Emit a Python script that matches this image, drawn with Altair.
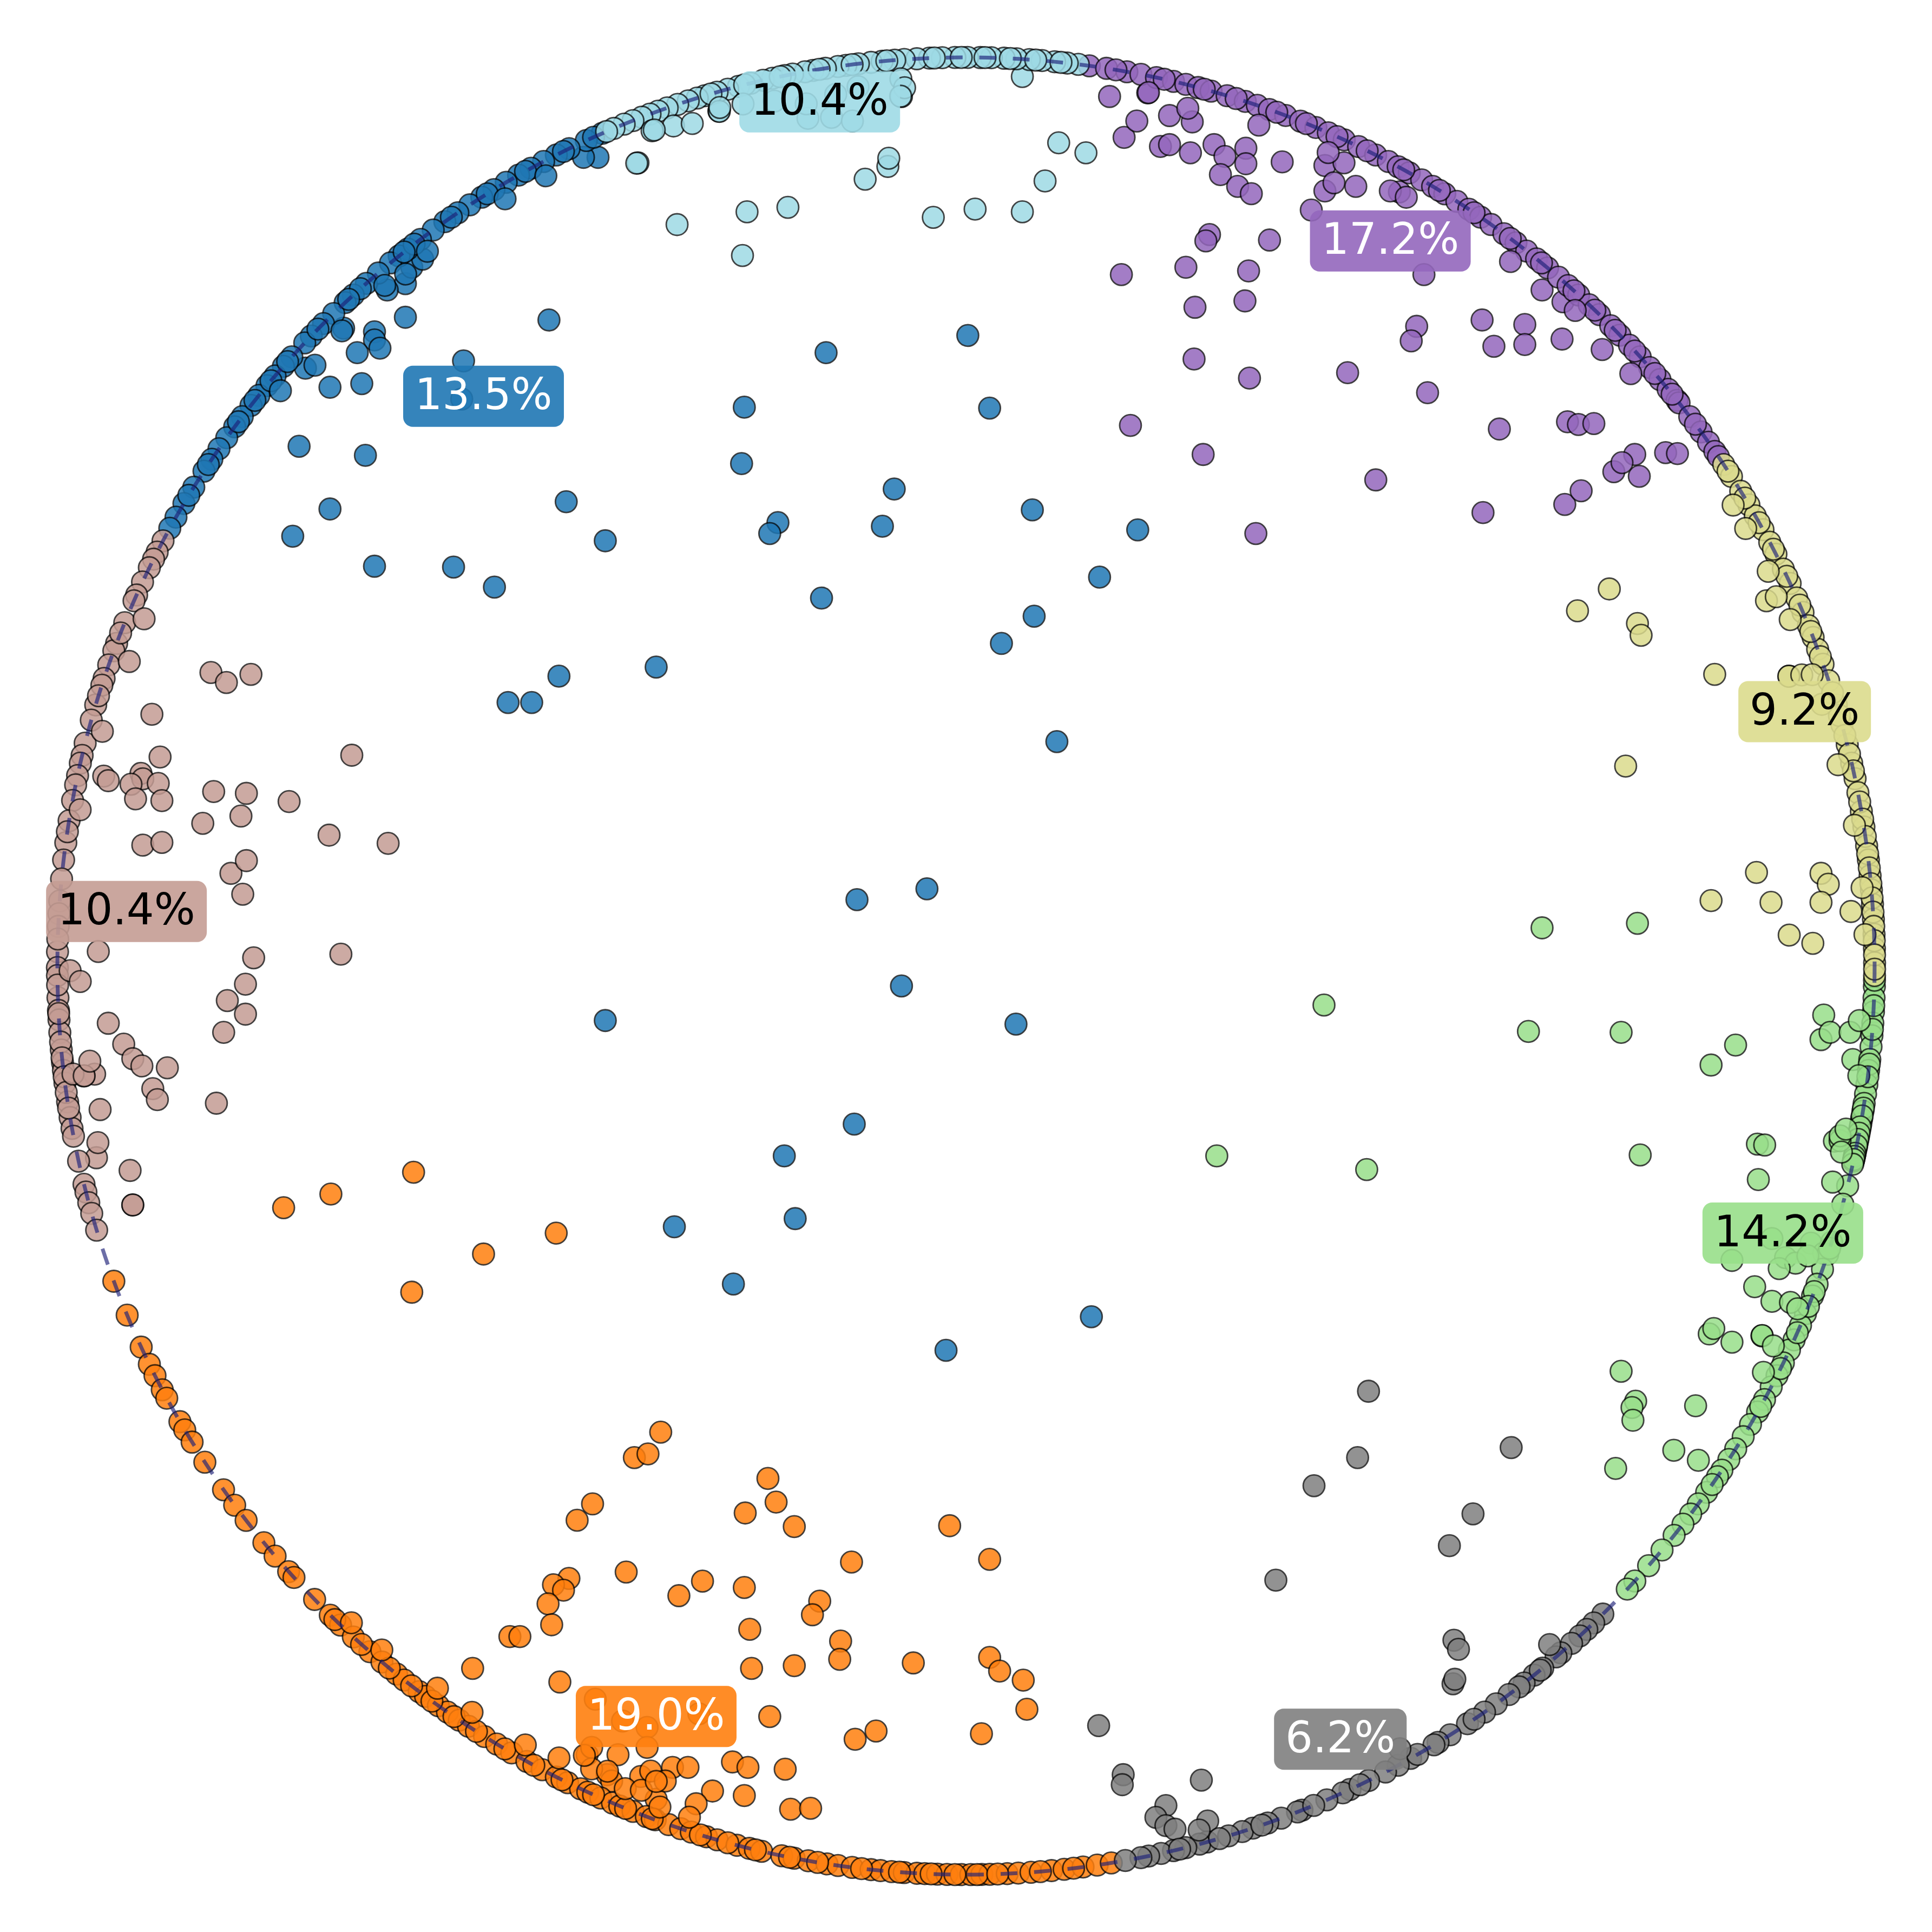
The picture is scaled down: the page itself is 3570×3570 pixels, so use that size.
import math
import altair as alt
import pandas as pd

# ---------------- categories ----------------
cat_names = ["blue", "orange", "green", "purple", "rosy", "gray", "khaki", "lightblue"]
cat_colors = ["#1f77b4", "#ff7f0e", "#98df8a", "#9467bd", "#c49c94", "#7f7f7f", "#dbdb8d", "#9edae5"]

# share labels
label_cat = ["lightblue", "purple", "khaki", "green", "gray", "orange", "rosy", "blue"]
label_text = ["10.4%", "17.2%", "9.2%", "14.2%", "6.2%", "19.0%", "10.4%", "13.5%"]
label_x = [-0.161, 0.467, 0.923, 0.899, 0.412, -0.341, -0.924, -0.531]
label_y = [0.951, 0.798, 0.280, -0.294, -0.851, -0.826, 0.060, 0.627]
label_ink = ["black", "white", "black", "black", "white", "white", "black", "white"]

# ---------------- points on the circle (angle in degrees) ----------------
ring_lightblue = [82.9, 83.6, 84.4, 85.2, 86.0, 86.8, 87.6, 88.4, 89.1, 89.9, 90.7, 91.5, 92.3, 93.1,
                  93.9, 94.5, 95.3, 96.0, 96.8, 97.6, 98.1, 98.9, 99.7, 100.2, 101.0, 101.5, 102.3,
                  102.9, 103.7, 104.5, 105.2, 105.9, 106.7, 107.2, 107.8, 108.5, 109.2, 109.8, 110.35,
                  110.9, 111.5, 112.1, 112.8, 113.3, 84.0, 85.6, 87.2, 88.8, 90.3, 92.0, 95.0, 97.2,
                  99.3, 101.8, 104.1, 106.3]
ring_purple = [82.2, 81.1, 79.8, 78.9, 77.9, 76.8, 76.0, 75.2, 74.35, 73.3, 72.1, 71.3, 70.5, 69.4,
               68.4, 67.35, 66.5, 65.4, 64.4, 63.2, 62.3, 61.6, 60.8, 59.9, 59.1, 58.2, 57.3, 56.4,
               55.5, 54.7, 53.7, 52.75, 51.9, 51.1, 50.2, 49.3, 48.5, 47.6, 46.7, 45.8, 44.8, 43.97,
               43.1, 42.1, 41.2, 40.2, 39.4, 38.5, 38.3, 37.2, 36.0, 35.2, 34.5, 80.5, 77.4, 74.8,
               72.7, 70.0, 68.0, 65.9, 63.8, 61.2, 58.6, 56.0, 53.2, 50.7, 48.0, 46.2, 44.4, 42.6,
               40.7, 39.0, 36.6, 34.1]
ring_khaki = [33.5, 32.6, 31.5, 30.5, 29.7, 28.7, 27.8, 26.95, 25.9, 24.9, 23.9, 22.9, 22.0, 21.2,
              20.4, 19.4, 18.3, 16.7, 15.4, 14.1, 12.9, 11.9, 11.0, 9.8, 8.8, 7.6, 6.7, 5.7, 4.8,
              3.9, 2.95, 2.0, 1.1, 0.2, -0.6, 33.0, 31.0, 29.2, 27.3, 25.4, 23.4, 21.6, 19.9, 17.5,
              16.0, 14.7, 13.5, 12.4, 10.4, 9.3, 8.2, 7.1, 6.2, 5.2, 4.3, 3.4, 2.5, 1.6, 0.7, -0.2]
ring_green = [-1.3, -2.0, -2.9, -3.6, -4.4, -5.1, -5.9, -6.6, -7.5, -8.1, -8.7, -9.2, -9.7, -10.0,
              -10.4, -10.8, -11.2, -11.5, -11.7, -12.0, -12.2, -12.4, -14.0, -15.2, -17.7, -18.5,
              -19.5, -20.5, -21.3, -22.5, -23.3, -24.3, -25.0, -25.9, -26.8, -27.6, -28.5, -29.4,
              -30.3, -31.2, -32.1, -32.9, -33.7, -34.2, -35.4, -36.3, -37.1, -37.9, -38.8, -40.0,
              -41.3, -42.6, -43.3, -0.9, -2.5, -4.0, -6.2, -7.0, -9.0, -9.5, -10.2, -10.6, -11.0,
              -11.4, -11.9, -12.1, -12.3, -12.6, -18.1, -21.0, -22.0, -23.8, -26.3, -29.0, -34.8]
ring_gray = [-45.5, -46.3, -46.9, -47.5, -48.2, -49.1, -49.5, -50.6, -51.3, -52.1, -52.5, -53.3,
             -54.3, -55.2, -56.5, -57.8, -58.7, -59.0, -60.7, -61.6, -62.5, -63.7, -65.0, -65.5,
             -66.6, -68.3, -68.6, -69.7, -70.6, -71.6, -72.3, -73.2, -74.6, -75.1, -76.0, -76.8,
             -77.6, -78.4, -78.9, -79.9, -50.8, -56.0, -60.2, -64.3, -67.5, -71.0, -73.8, -76.4]
ring_orange = [200.3, 202.6, 204.8, 206.0, 206.8, 207.8, 208.4, 210.1, 210.7, 211.6, 213.1, 215.2,
               216.4, 217.6, 219.4, 220.5, 221.8, 222.3, 224.2, 225.6, 226.5, 227.6, 229.0, 230.0,
               231.2, 231.8, 233.0, 233.5, 234.5, 235.2, 236.1, 236.8, 238.0, 238.9, 240.0, 241.1,
               242.2, 243.2, 244.0, 244.9, 245.4, 246.3, 247.1, 247.6, 248.5, 249.4, 250.0, 250.9,
               251.7, 252.4, 253.4, 254.1, 255.4, 256.2, 257.0, 258.3, 259.1, 260.0, 261.2, 261.9,
               262.8, 264.0, 264.6, 265.3, 266.1, 266.9, 267.4, 268.2, 268.8, 269.7, 270.3, 271.0,
               271.5, 272.6, 273.3, 274.1, 275.4, 276.2, 277.4, 278.3, 279.2, 226.0, 228.3, 230.6,
               232.4, 234.0, 235.7, 237.4, 239.5, 241.6, 243.6, 245.8, 248.0, 249.8, 253.0, 254.8,
               256.6, 258.8, 260.6, 263.4, 265.8, 267.8, 269.3, 270.7, 272.0, 274.7, 276.8]
ring_rosy = [152.1, 152.9, 153.4, 154.0, 155.0, 155.9, 156.3, 157.8, 159.2, 159.7, 160.65, 161.55,
             162.0, 163.3, 164.3, 165.8, 166.6, 167.1, 167.9, 168.5, 169.5, 170.8, 172.2, 173.3,
             174.5, 175.9, 176.7, 179.1, 180.1, 182.0, 182.8, 183.4, 184.2, 185.3, 186.1, 186.6,
             187.4, 188.6, 189.6, 190.3, 190.8, 192.4, 193.9, 194.4, 195.1, 195.8, 196.9, 177.5,
             178.3, 180.6, 181.2, 183.0, 184.8, 185.8, 187.0, 188.0, 189.0, 158.5, 162.7, 171.5]
ring_blue = [113.6, 114.7, 115.9, 116.8, 117.7, 118.6, 119.5, 120.4, 121.3, 122.2, 123.1, 124.0,
             125.0, 125.9, 126.9, 127.9, 128.6, 129.3, 130.3, 131.3, 132.4, 133.1, 134.1, 135.0,
             136.1, 136.7, 137.9, 138.7, 139.5, 140.3, 141.1, 141.9, 142.8, 143.6, 144.45, 145.3,
             146.1, 147.0, 148.2, 149.4, 150.4, 151.2, 114.2, 116.3, 119.0, 121.8, 124.5, 127.4,
             128.2, 131.8, 132.8, 135.5, 138.3, 139.9, 141.5, 143.2, 146.5, 148.8]

# ---------------- points just inside the circle (angle, radius) ----------------
near_lightblue = [(110.6, 0.982), (109.2, 0.979), (106.1, 0.979), (94.2, 0.979), (94.0, 0.969),
                  (94.3, 0.960), (112.3, 0.955), (110.45, 0.982), (106.0, 0.983), (97.0, 0.975),
                  (98.5, 0.970), (100.5, 0.965), (102.5, 0.975), (104.5, 0.980), (108.0, 0.975)]
near_purple = [(78.2, 0.982), (75.5, 0.975), (70.8, 0.980), (66.0, 0.980), (60.2, 0.975),
               (52.3, 0.980), (47.1, 0.985), (44.1, 0.975), (41.7, 0.980)]
near_khaki = [(29.3, 0.984), (26.2, 0.984), (22.8, 0.984), (19.4, 0.960), (19.2, 0.974),
              (19.0, 0.985), (31.0, 0.985), (24.5, 0.980), (17.0, 0.985), (13.0, 0.985),
              (9.0, 0.990), (5.0, 0.990), (2.0, 0.990)]
near_green = [(-14.0, 0.983), (-11.4, 0.975), (-11.3, 0.981), (-11.0, 0.980), (-12.0, 0.985),
              (-10.5, 0.985), (-24.9, 0.966), (-25.2, 0.982), (-22.2, 0.980), (-22.4, 0.990),
              (-19.0, 0.980), (-27.0, 0.985), (-3.5, 0.985), (-7.0, 0.990)]
near_gray = [(-49.3, 0.985), (-61.0, 0.985), (-74.9, 0.985)]
near_orange = [(240.5, 0.985), (242.8, 0.980), (245.0, 0.975), (246.0, 0.970), (247.5, 0.980),
               (248.5, 0.975), (250.0, 0.985), (252.0, 0.985), (233.8, 0.985), (236.5, 0.985),
               (229.5, 0.990), (226.9, 0.990), (244.2, 0.965), (249.2, 0.960)]
near_rosy = [(157.1, 0.982), (160.0, 0.980), (180.3, 0.986), (186.9, 0.990), (187.1, 0.978),
             (181.0, 0.975), (186.2, 0.970), (191.5, 0.975), (196.0, 0.954), (164.8, 0.985),
             (170.0, 0.990)]
near_blue = [(127.0, 0.985), (129.0, 0.980), (130.5, 0.985), (134.5, 0.980), (137.3, 0.975),
             (140.0, 0.985), (118.0, 0.985), (121.0, 0.985)]

# ---------------- points inside the disc (x, y) ----------------
inner_lightblue = [(-0.361, 0.884), (-0.318, 0.816), (-0.246, 0.782), (-0.241, 0.830), (-0.196, 0.835),
                   (-0.111, 0.866), (-0.086, 0.880), (-0.085, 0.889), (-0.036, 0.824), (0.010, 0.833),
                   (0.062, 0.830), (0.087, 0.864), (0.102, 0.906), (0.132, 0.895), (-0.174, 0.933),
                   (-0.148, 0.934), (-0.125, 0.930), (-0.071, 0.957), (-0.272, 0.941), (0.062, 0.979)]
inner_purple = [(0.158, 0.957), (0.174, 0.912), (0.188, 0.930), (0.200, 0.961), (0.214, 0.902),
                (0.224, 0.936), (0.224, 0.904), (0.249, 0.929), (0.247, 0.895), (0.273, 0.904),
                (0.285, 0.891), (0.280, 0.871), (0.308, 0.900), (0.308, 0.883), (0.299, 0.858),
                (0.314, 0.850), (0.348, 0.885), (0.395, 0.881), (0.416, 0.884), (0.395, 0.853),
                (0.405, 0.862), (0.429, 0.858), (0.380, 0.832), (0.477, 0.852), (0.268, 0.805),
                (0.264, 0.798), (0.334, 0.799), (0.171, 0.761), (0.242, 0.769), (0.311, 0.765),
                (0.252, 0.725), (0.307, 0.732), (0.504, 0.761), (0.251, 0.668), (0.312, 0.647),
                (0.420, 0.653), (0.508, 0.631), (0.496, 0.704), (0.490, 0.688), (0.568, 0.711),
                (0.581, 0.682), (0.615, 0.706), (0.615, 0.684), (0.656, 0.690), (0.634, 0.744),
                (0.657, 0.731), (0.181, 0.595), (0.261, 0.563), (0.451, 0.535), (0.569, 0.499),
                (0.587, 0.591), (0.662, 0.599), (0.674, 0.596), (0.691, 0.597), (0.659, 0.508),
                (0.677, 0.523), (0.713, 0.544), (0.736, 0.563), (0.741, 0.539), (0.722, 0.554),
                (0.770, 0.565), (0.783, 0.564), (0.319, 0.476), (0.467, 0.853)]
inner_khaki = [(0.708, 0.415), (0.673, 0.391), (0.739, 0.377), (0.743, 0.364), (0.824, 0.321),
               (0.881, 0.402), (0.906, 0.319), (0.726, 0.220), (0.870, 0.103), (0.820, 0.072),
               (0.886, 0.070), (0.941, 0.102), (0.949, 0.090), (0.941, 0.070), (0.974, 0.060),
               (0.906, 0.034), (0.932, 0.025)]
inner_green = [(0.394, -0.043), (0.634, 0.042), (0.739, 0.047), (0.619, -0.072), (0.721, -0.073),
               (0.847, -0.087), (0.820, -0.109), (0.944, -0.054), (0.941, -0.081), (0.951, -0.073),
               (0.973, -0.073), (0.976, -0.103), (0.276, -0.209), (0.441, -0.224), (0.742, -0.208),
               (0.871, -0.196), (0.879, -0.197), (0.872, -0.235), (0.843, -0.324), (0.887, -0.300),
               (0.902, -0.321), (0.913, -0.327), (0.895, -0.333), (0.930, -0.305), (0.944, -0.316),
               (0.868, -0.353), (0.887, -0.369), (0.818, -0.405), (0.823, -0.399), (0.843, -0.414),
               (0.876, -0.407), (0.721, -0.446), (0.737, -0.479), (0.733, -0.486), (0.734, -0.500),
               (0.803, -0.484), (0.779, -0.533), (0.806, -0.544), (0.715, -0.553)]
inner_gray = [(0.443, -0.468), (0.431, -0.541), (0.383, -0.572), (0.600, -0.530), (0.558, -0.603),
              (0.532, -0.638), (0.341, -0.676), (0.537, -0.742), (0.542, -0.752), (0.536, -0.790),
              (0.538, -0.785), (0.146, -0.836), (0.173, -0.890), (0.172, -0.901), (0.259, -0.896),
              (0.220, -0.924), (0.209, -0.937), (0.220, -0.946), (0.230, -0.950), (0.266, -0.941)]
inner_orange = [(-0.608, -0.227), (-0.751, -0.266), (-0.699, -0.251), (-0.610, -0.359), (-0.531, -0.317),
                (-0.451, -0.294), (-0.365, -0.541), (-0.350, -0.537), (-0.336, -0.513), (-0.411, -0.592),
                (-0.428, -0.610), (-0.374, -0.667), (-0.437, -0.674), (-0.454, -0.681), (-0.443, -0.687),
                (-0.460, -0.702), (-0.456, -0.725), (-0.502, -0.738), (-0.491, -0.738), (-0.543, -0.773),
                (-0.447, -0.788), (-0.316, -0.693), (-0.290, -0.677), (-0.244, -0.684), (-0.161, -0.699),
                (-0.169, -0.714), (-0.238, -0.730), (-0.126, -0.656), (0.026, -0.653), (-0.138, -0.743),
                (-0.139, -0.763), (-0.236, -0.773), (-0.189, -0.770), (-0.058, -0.767), (0.026, -0.761),
                (0.037, -0.776), (0.063, -0.786), (0.067, -0.818), (0.017, -0.845), (-0.216, -0.826),
                (-0.122, -0.851), (-0.099, -0.842), (-0.218, -0.564), (-0.243, -0.602), (-0.209, -0.590),
                (-0.189, -0.617), (-0.018, -0.616), (-0.408, -0.807), (-0.378, -0.831), (-0.351, -0.838),
                (-0.294, -0.823), (-0.417, -0.868), (-0.412, -0.860), (-0.383, -0.868), (-0.351, -0.860),
                (-0.323, -0.882), (-0.306, -0.882), (-0.257, -0.876), (-0.240, -0.882), (-0.199, -0.884),
                (-0.279, -0.908), (-0.297, -0.922), (-0.244, -0.913), (-0.193, -0.928), (-0.171, -0.927),
                (-0.358, -0.892), (-0.347, -0.886), (-0.341, -0.917), (-0.331, -0.897), (-0.395, -0.890),
                (-0.390, -0.897)]
inner_rosy = [(-0.831, 0.323), (-0.814, 0.312), (-0.787, 0.321), (-0.896, 0.277), (-0.676, 0.232),
              (-0.949, 0.209), (-0.944, 0.204), (-0.908, 0.212), (-0.906, 0.206), (-0.887, 0.230),
              (-0.889, 0.201), (-0.919, 0.200), (-0.914, 0.184), (-0.885, 0.182), (-0.828, 0.192),
              (-0.792, 0.190), (-0.745, 0.181), (-0.840, 0.157), (-0.798, 0.165), (-0.906, 0.133),
              (-0.885, 0.136), (-0.701, 0.144), (-0.636, 0.135), (-0.809, 0.102), (-0.792, 0.116),
              (-0.796, 0.079), (-0.955, 0.016), (-0.784, 0.009), (-0.688, 0.013), (-0.793, -0.020),
              (-0.813, -0.038), (-0.793, -0.053), (-0.817, -0.073), (-0.944, -0.063), (-0.927, -0.086),
              (-0.917, -0.102), (-0.907, -0.110), (-0.879, -0.112), (-0.959, -0.119), (-0.971, -0.121),
              (-0.895, -0.135), (-0.890, -0.147), (-0.825, -0.151), (-0.953, -0.158), (-0.957, -0.211),
              (-0.920, -0.225), (-0.917, -0.263)]
inner_blue = [(-0.617, 0.714), (-0.651, 0.698), (-0.651, 0.689), (-0.645, 0.680), (-0.670, 0.675),
              (-0.685, 0.702), (-0.727, 0.658), (-0.700, 0.637), (-0.665, 0.641), (-0.553, 0.666),
              (-0.555, 0.624), (-0.459, 0.711), (-0.734, 0.572), (-0.661, 0.562), (-0.700, 0.503),
              (-0.741, 0.473), (-0.651, 0.440), (-0.564, 0.439), (-0.519, 0.417), (-0.440, 0.511),
              (-0.397, 0.468), (-0.244, 0.615), (-0.247, 0.553), (-0.617, 0.751), (-0.637, 0.744),
              (-0.610, 0.769), (-0.598, 0.778), (-0.405, 0.890), (-0.421, 0.890), (-0.154, 0.675),
              (0.002, 0.694), (0.026, 0.614), (-0.079, 0.525), (-0.092, 0.484), (-0.207, 0.488),
              (-0.216, 0.476), (0.073, 0.502), (0.189, 0.480), (0.147, 0.428), (-0.159, 0.405),
              (0.075, 0.385), (0.039, 0.355), (-0.341, 0.329), (-0.448, 0.319), (-0.504, 0.290),
              (-0.478, 0.290), (0.100, 0.247), (-0.120, 0.073), (-0.043, 0.085), (-0.071, -0.022),
              (-0.397, -0.060), (0.055, -0.064), (-0.123, -0.174), (-0.200, -0.209), (-0.321, -0.287),
              (-0.188, -0.278), (-0.256, -0.350), (0.138, -0.386), (-0.022, -0.423)]

ring_by_cat = {"lightblue": ring_lightblue, "purple": ring_purple, "khaki": ring_khaki,
               "green": ring_green, "gray": ring_gray, "orange": ring_orange,
               "rosy": ring_rosy, "blue": ring_blue}
near_by_cat = {"lightblue": near_lightblue, "purple": near_purple, "khaki": near_khaki,
               "green": near_green, "gray": near_gray, "orange": near_orange,
               "rosy": near_rosy, "blue": near_blue}
inner_by_cat = {"lightblue": inner_lightblue, "purple": inner_purple, "khaki": inner_khaki,
                "green": inner_green, "gray": inner_gray, "orange": inner_orange,
                "rosy": inner_rosy, "blue": inner_blue}

# ---------------- build the table ----------------
rows = []
for c in cat_names:
    for (px, py) in inner_by_cat[c]:
        rows.append({"cat": c, "ang": None, "rad": None, "px": px, "py": py})
    for a in ring_by_cat[c]:
        rows.append({"cat": c, "ang": a, "rad": 1.0, "px": None, "py": None})
    for (a, r) in near_by_cat[c]:
        rows.append({"cat": c, "ang": a, "rad": r, "px": None, "py": None})
points = pd.DataFrame(rows)

labels = pd.DataFrame({"cat": label_cat, "label": label_text, "lx": label_x,
                       "ly": label_y, "ink": label_ink})

LIM = 1.0584
PLOT = 3554
px_per_unit = PLOT / (2 * LIM)
circle_diam = 2 * px_per_unit

xs = alt.Scale(domain=[-LIM, LIM], nice=False, zero=False)
ys = alt.Scale(domain=[-LIM, LIM], nice=False, zero=False)
color = alt.Color("cat:N", scale=alt.Scale(domain=cat_names, range=cat_colors), legend=None)

pts = alt.Chart(points).transform_calculate(
    x="isValid(datum.ang) ? datum.rad * cos(datum.ang * PI / 180) : datum.px",
    y="isValid(datum.ang) ? datum.rad * sin(datum.ang * PI / 180) : datum.py",
).mark_point(filled=True, shape="circle", size=1600, opacity=0.85,
             stroke="black", strokeWidth=2.8, strokeOpacity=0.85).encode(
    x=alt.X("x:Q", scale=xs, axis=None),
    y=alt.Y("y:Q", scale=ys, axis=None),
    fill=alt.Fill("cat:N", scale=alt.Scale(domain=cat_names, range=cat_colors), legend=None),
)

centre = pd.DataFrame({"cx": [0.0], "cy": [0.0]})
ring = alt.Chart(centre).mark_point(shape="circle", filled=False, size=circle_diam ** 2,
                                    stroke="#1c2178", strokeWidth=7, strokeOpacity=0.92,
                                    strokeDash=[31, 31]).encode(
    x=alt.X("cx:Q", scale=xs, axis=None),
    y=alt.Y("cy:Q", scale=ys, axis=None),
)

box5 = alt.Chart(labels).transform_filter("length(datum.label) == 5").mark_rect(
    width=297, height=113, cornerRadius=18, opacity=0.9).encode(
    x=alt.X("lx:Q", scale=xs, axis=None),
    y=alt.Y("ly:Q", scale=ys, axis=None),
    color=color,
)
box4 = alt.Chart(labels).transform_filter("length(datum.label) == 4").mark_rect(
    width=245, height=113, cornerRadius=18, opacity=0.9).encode(
    x=alt.X("lx:Q", scale=xs, axis=None),
    y=alt.Y("ly:Q", scale=ys, axis=None),
    color=color,
)
txt = alt.Chart(labels).mark_text(font="DejaVu Sans", fontSize=80, align="center",
                                  baseline="middle").encode(
    x=alt.X("lx:Q", scale=xs, axis=None),
    y=alt.Y("ly:Q", scale=ys, axis=None),
    text="label:N",
    color=alt.Color("ink:N", scale=None),
)

chart = alt.layer(pts, ring, box5, box4, txt).properties(
    width=PLOT, height=PLOT, padding=0,
    autosize=alt.AutoSizeParams(type="fit", contains="padding"),
).configure_view(stroke=None)

chart.save("out.html", embed_options={"renderer": "svg", "actions": False})
